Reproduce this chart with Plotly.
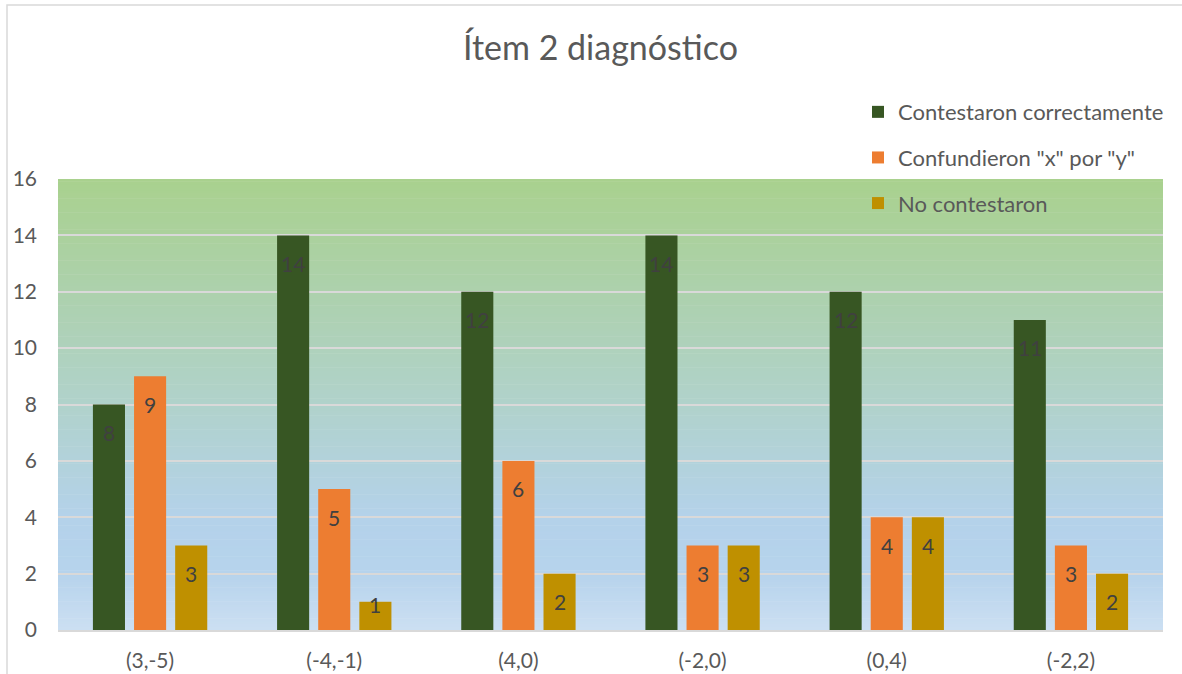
import plotly.graph_objects as go

# Data
categories = ["(3,-5)", "(-4,-1)", "(4,0)", "(-2,0)", "(0,4)", "(-2,2)"]
series_names = ["Contestaron correctamente", 'Confundieron "x" por "y"', "No contestaron"]
correctas = [8, 14, 12, 14, 12, 11]
confundieron = [9, 5, 6, 3, 4, 3]
no_contestaron = [3, 1, 2, 3, 4, 2]
y_ticks = [0, 2, 4, 6, 8, 10, 12, 14, 16]

series_values = [correctas, confundieron, no_contestaron]
colors = ["#375623", "#ED7D31", "#BF9000"]

W, H = 1182, 674
M_L, M_R, M_T, M_B = 58, 19, 179, 44
plot_h = H - M_T - M_B
px_per_unit = plot_h / 16.0
FONT = "Lato, Carlito, Calibri, sans-serif"

fig = go.Figure()
for i, (name, vals, col) in enumerate(zip(series_names, series_values, colors)):
    fig.add_trace(go.Bar(
        x=categories, y=vals, name=name,
        marker=dict(color=col, line=dict(width=0)),
        legendgroup=f"g{i}",
    ))

# Plot-area gradient (green at top to light blue at the bottom)
stops = [(0.0, (204, 223, 242)), (2.0, (182, 211, 236)), (4.0, (180, 210, 234)),
         (16.0, (169, 209, 142))]


def grad_color(v):
    for (v0, c0), (v1, c1) in zip(stops[:-1], stops[1:]):
        if v0 <= v <= v1:
            t = (v - v0) / (v1 - v0)
            return "rgb(%d,%d,%d)" % tuple(round(a + (b - a) * t) for a, b in zip(c0, c1))
    return "rgb(%d,%d,%d)" % stops[-1][1]


shapes = []
n = 160
for k in range(n):
    y0 = 16.0 * k / n
    y1 = 16.0 * (k + 1) / n
    shapes.append(dict(type="rect", xref="x domain", yref="y", x0=0, x1=1, y0=y0, y1=y1 + 0.02,
                       fillcolor=grad_color((y0 + y1) / 2), line=dict(width=0), layer="below"))

# Chart border (left / top edges visible)
bx0 = (7 - M_L) / (W - M_L - M_R)
by1 = (H - M_B - 5) / plot_h
shapes.append(dict(type="rect", xref="paper", yref="paper", x0=bx0, x1=1.2, y0=-0.5, y1=by1,
                   line=dict(color="#D9D9D9", width=1.5), fillcolor="rgba(0,0,0,0)", layer="below"))

# Data labels inside the top of each bar
annotations = []
slot = (W - M_L - M_R) / len(categories) * (1 - 0.33) / 3
for i, vals in enumerate(series_values):
    for cat, v in zip(categories, vals):
        shift = min(28.0, v * px_per_unit - 25.0)
        annotations.append(dict(
            x=cat, y=v, xref="x", yref="y", text=str(v), showarrow=False,
            xshift=(i - 1) * slot, yshift=-shift, yanchor="middle",
            font=dict(family=FONT, size=21, color="#404040"),
        ))

fig.update_layout(
    width=W, height=H,
    margin=dict(l=M_L, r=M_R, t=M_T, b=M_B, autoexpand=False),
    paper_bgcolor="white",
    plot_bgcolor="rgba(0,0,0,0)",
    barmode="group", bargap=0.33, bargroupgap=0.22,
    title=dict(text="Ítem 2 diagnóstico", x=0.508, xanchor="center", y=0.928, yanchor="middle",
               font=dict(family=FONT, size=34, color="#595959")),
    legend=dict(x=0.724, xanchor="left", y=1.195, yanchor="top", orientation="v",
                bgcolor="rgba(0,0,0,0)", tracegroupgap=14, traceorder="grouped",
                font=dict(family=FONT, size=22, color="#595959")),
    shapes=shapes,
    annotations=annotations,
    font=dict(family=FONT, color="#595959"),
)
fig.update_xaxes(showgrid=False, showline=True, linecolor="#D9D9D9", linewidth=2,
                 ticks="", tickfont=dict(family=FONT, size=21, color="#595959"),
                 ticklabelstandoff=11, automargin=False)
fig.update_yaxes(range=[0, 16], tickvals=y_ticks, showgrid=True, gridcolor="#D9D9D9", gridwidth=2,
                 zeroline=False, showline=False, ticks="", automargin=False,
                 tickfont=dict(family=FONT, size=21, color="#595959"), ticklabelstandoff=20)

fig.write_html("out.html")
